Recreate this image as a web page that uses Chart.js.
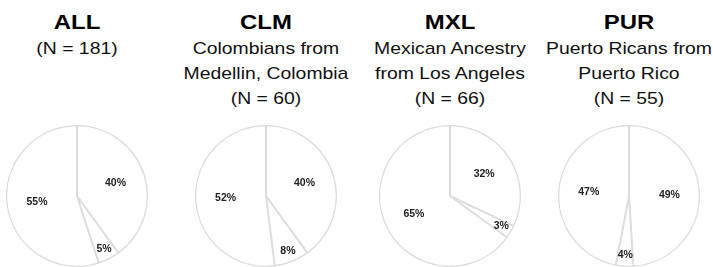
<!DOCTYPE html>
<html>
<head>
<meta charset="utf-8">
<script src="https://cdn.jsdelivr.net/npm/chart.js@4"></script>
<style>
  body { margin: 0; background: #fff; width: 713px; height: 267px; overflow: hidden; position: relative; }
  .head { position: absolute; top: 8px; width: 200px; text-align: center; font-family: "Liberation Sans", Arial, Helvetica, sans-serif; color: #111; transform: scaleX(1.14); }
  .head .t { font-weight: bold; font-size: 21px; line-height: 28px; color: #000; }
  .head .s { font-size: 17px; line-height: 25px; }
  .pie { position: absolute; top: 125px; width: 142px; height: 142px; }
</style>
</head>
<body>
<script>
// groups and their text
const groups = ['ALL', 'CLM', 'MXL', 'PUR'];
const descriptions = [
  [],
  ['Colombians from', 'Medellin, Colombia'],
  ['Mexican Ancestry', 'from Los Angeles'],
  ['Puerto Ricans from', 'Puerto Rico']
];
const sampleSizes = [181, 60, 66, 55];

// slice percentages, clockwise from 12 o'clock
const allPct = [40, 5, 55];
const clmPct = [40, 8, 52];
const mxlPct = [32, 3, 65];
const purPct = [49, 4, 47];
const sliceLabels = ['Slice 1', 'Slice 2', 'Slice 3'];

const panelData = [allPct, clmPct, mxlPct, purPct];
const centersX = [77, 266, 450, 629];

// draw % labels inside slices
const pctLabels = {
  id: 'pctLabels',
  afterDatasetsDraw(chart) {
    const ctx = chart.ctx;
    const meta = chart.getDatasetMeta(0);
    const vals = chart.data.datasets[0].data;
    ctx.save();
    ctx.font = 'bold 10.5px "Liberation Sans", Arial, sans-serif';
    ctx.fillStyle = '#222';
    ctx.textAlign = 'center';
    ctx.textBaseline = 'middle';
    meta.data.forEach((arc, i) => {
      const p = arc.getProps(['x', 'y', 'startAngle', 'endAngle', 'outerRadius'], true);
      const mid = (p.startAngle + p.endAngle) / 2;
      const d = p.outerRadius * (vals[i] < 10 ? 0.84 : 0.57);
      ctx.fillText(vals[i] + '%', p.x + Math.cos(mid) * d, p.y + Math.sin(mid) * d);
    });
    ctx.restore();
  }
};

groups.forEach((g, k) => {
  const head = document.createElement('div');
  head.className = 'head';
  head.style.left = (centersX[k] - 100) + 'px';
  let html = '<div class="t">' + g + '</div>';
  descriptions[k].forEach(line => { html += '<div class="s">' + line + '</div>'; });
  html += '<div class="s">(N = ' + sampleSizes[k] + ')</div>';
  head.innerHTML = html;
  document.body.appendChild(head);

  const box = document.createElement('div');
  box.className = 'pie';
  box.style.left = (centersX[k] - 71) + 'px';
  const cv = document.createElement('canvas');
  box.appendChild(cv);
  document.body.appendChild(box);

  new Chart(cv.getContext('2d'), {
    type: 'pie',
    data: {
      labels: sliceLabels,
      datasets: [{
        data: panelData[k],
        backgroundColor: '#ffffff',
        borderColor: '#dcdcdc',
        borderWidth: 1,
        borderAlign: 'inner'
      }]
    },
    options: {
      responsive: true,
      maintainAspectRatio: false,
      animation: false,
      layout: { padding: 0 },
      plugins: {
        legend: { display: false },
        tooltip: { enabled: false }
      }
    },
    plugins: [pctLabels]
  });
});
</script>
</body>
</html>
